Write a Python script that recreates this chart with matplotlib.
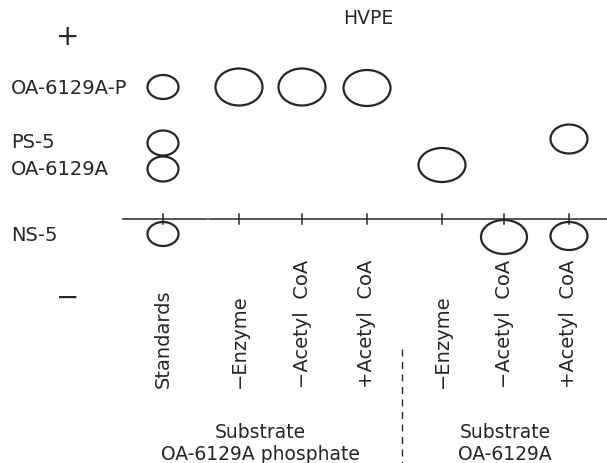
import matplotlib.pyplot as plt
from matplotlib.patches import Ellipse

# HVPE lanes (application points along the origin line)
lanes = ["Standards", "\u2212Enzyme", "\u2212Acetyl  CoA", "+Acetyl  CoA",
         "\u2212Enzyme", "\u2212Acetyl  CoA", "+Acetyl  CoA"]
lane_x = [163, 239, 302, 367, 442, 504, 569]

# reference compounds and their migration position
bands = ["OA-6129A-P", "PS-5", "OA-6129A", "NS-5"]
band_y = [88, 143, 170, 236]

# detected spots: lane index, position, spot width / height
spot_lane = [0, 0, 0, 0, 1, 2, 3, 4, 6, 5, 6]
spot_y = [88, 144, 170, 235, 88, 88, 89, 166, 140, 238, 237]
spot_w = [31, 31, 31, 31, 47, 47, 47, 47, 37, 46, 37]
spot_h = [24, 25, 25, 24, 37, 37, 36, 34, 29, 34, 28]

origin_y = 220
groups = ["Substrate\nOA-6129A phosphate", "Substrate\nOA-6129A"]
group_x = [260, 505]

ink = "#262626"
fs = 14

fig = plt.figure(figsize=(6.07, 4.64), dpi=100)
ax = fig.add_axes([0, 0, 1, 1])
ax.set_xlim(0, 607)
ax.set_ylim(464, 0)
ax.axis("off")

# origin line (small break as in the scan) and lane ticks
ax.plot([123, 207], [origin_y, origin_y], color=ink, lw=1.1)
ax.plot([209, 607], [origin_y, origin_y], color=ink, lw=1.1)
for x in lane_x:
    ax.plot([x, x], [origin_y - 5, origin_y + 5], color=ink, lw=1.1)

for i, y, w, h in zip(spot_lane, spot_y, spot_w, spot_h):
    ax.add_patch(Ellipse((lane_x[i], y), w, h, fill=False,
                         edgecolor=ink, lw=1.6))

for name, y in zip(bands, band_y):
    ax.text(11, y, name, fontsize=fs, color=ink, ha="left", va="center")

for name, x in zip(lanes, lane_x):
    ax.text(x, 388, name, fontsize=fs, color=ink, rotation=90,
            ha="center", va="bottom")

for name, x in zip(groups, group_x):
    ax.text(x, 444, name, fontsize=13.5, color=ink, ha="center",
            va="center", linespacing=1.2)

# divider between the two substrate groups
ax.plot([402, 402], [350, 464], color=ink, lw=1.0, ls=(0, (5, 4)))

ax.text(368, 18, "HVPE", fontsize=13.5, color=ink, ha="center", va="center")
ax.text(68, 37, "+", fontsize=20, color=ink, ha="center", va="center")
ax.text(68, 298, "\u2212", fontsize=20, color=ink, ha="center", va="center")

fig.savefig("out.png", dpi=100)
